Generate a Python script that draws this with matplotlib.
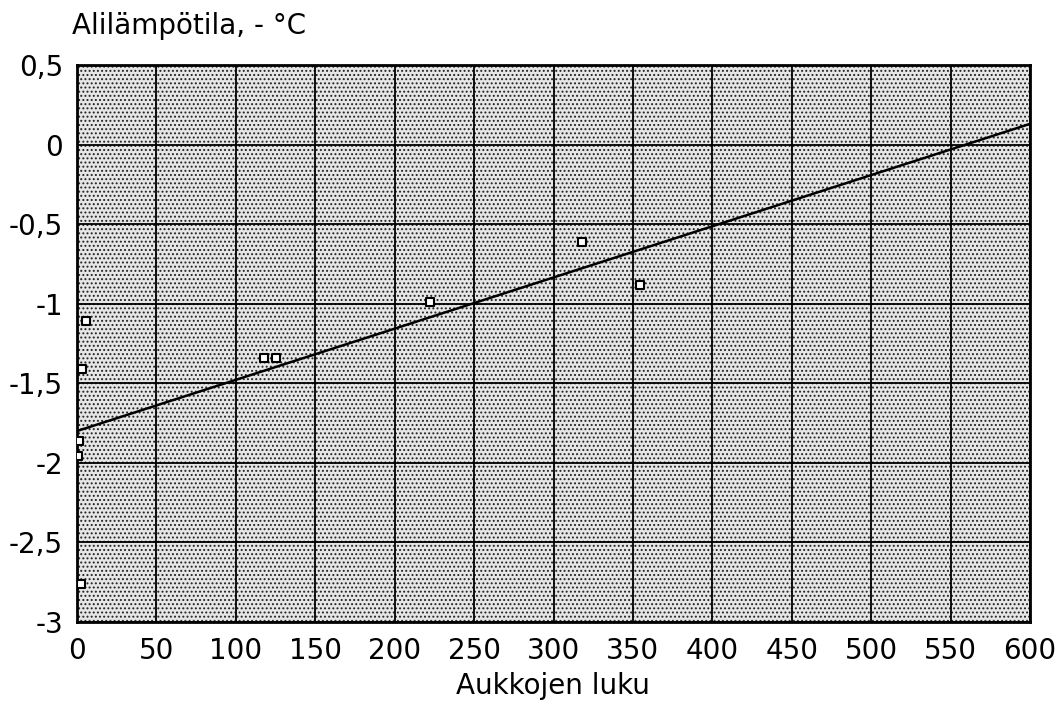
import numpy as np
import matplotlib.pyplot as plt

# measured points
aukot = [5.7, 3, 1, 0.5, 2.5, 118, 125, 222, 318, 354.5]
alilampo = [-1.11, -1.41, -1.86, -1.96, -2.76, -1.34, -1.34, -0.99, -0.61, -0.88]

# fitted line end points
fit_x = [0, 600]
fit_y = [-1.8, 0.13]

plt.rcParams['font.family'] = ['DejaVu Sans']
plt.rcParams['hatch.linewidth'] = 0.9
plt.rcParams['hatch.color'] = '#222222'

fig = plt.figure(figsize=(10.63, 7.24), dpi=100)
ax = fig.add_axes([77 / 1063, 1 - 622 / 724, (1030 - 77) / 1063, (622 - 65) / 724])

# halftone-like background
ax.set_facecolor('#e6e6e6')
ax.add_patch(plt.Rectangle((0, 0), 1, 1, transform=ax.transAxes, facecolor='none',
                           hatch='....', linewidth=0, zorder=0.5))

ax.plot(fit_x, fit_y, color='black', linewidth=1.8, zorder=3)
ax.scatter(aukot, alilampo, marker='s', s=30, facecolor='white', edgecolor='black',
           linewidth=1.5, zorder=4)

ax.set_xlim(0, 600)
ax.set_ylim(-3, 0.5)
xt = np.arange(0, 601, 50)
yt = np.arange(-3, 0.51, 0.5)
ax.set_xticks(xt)
ax.set_yticks(yt)
ax.set_xticklabels([str(v) for v in xt])
ax.set_yticklabels([('%g' % v).replace('.', ',') for v in yt])
ax.tick_params(length=0, labelsize=20)
ax.tick_params(axis='x', pad=11)
ax.tick_params(axis='y', pad=10)
ax.grid(True, color='black', linewidth=1.3, zorder=2)
ax.set_axisbelow(False)
for s in ax.spines.values():
    s.set_linewidth(2)

fig.text(72 / 1063, 1 - 26 / 724, 'Alilämpötila, - °C', fontsize=20, va='center', ha='left')
fig.text(553 / 1063, 1 - 686 / 724, 'Aukkojen luku', fontsize=20, va='center', ha='center')

fig.savefig('out.png', dpi=100)
